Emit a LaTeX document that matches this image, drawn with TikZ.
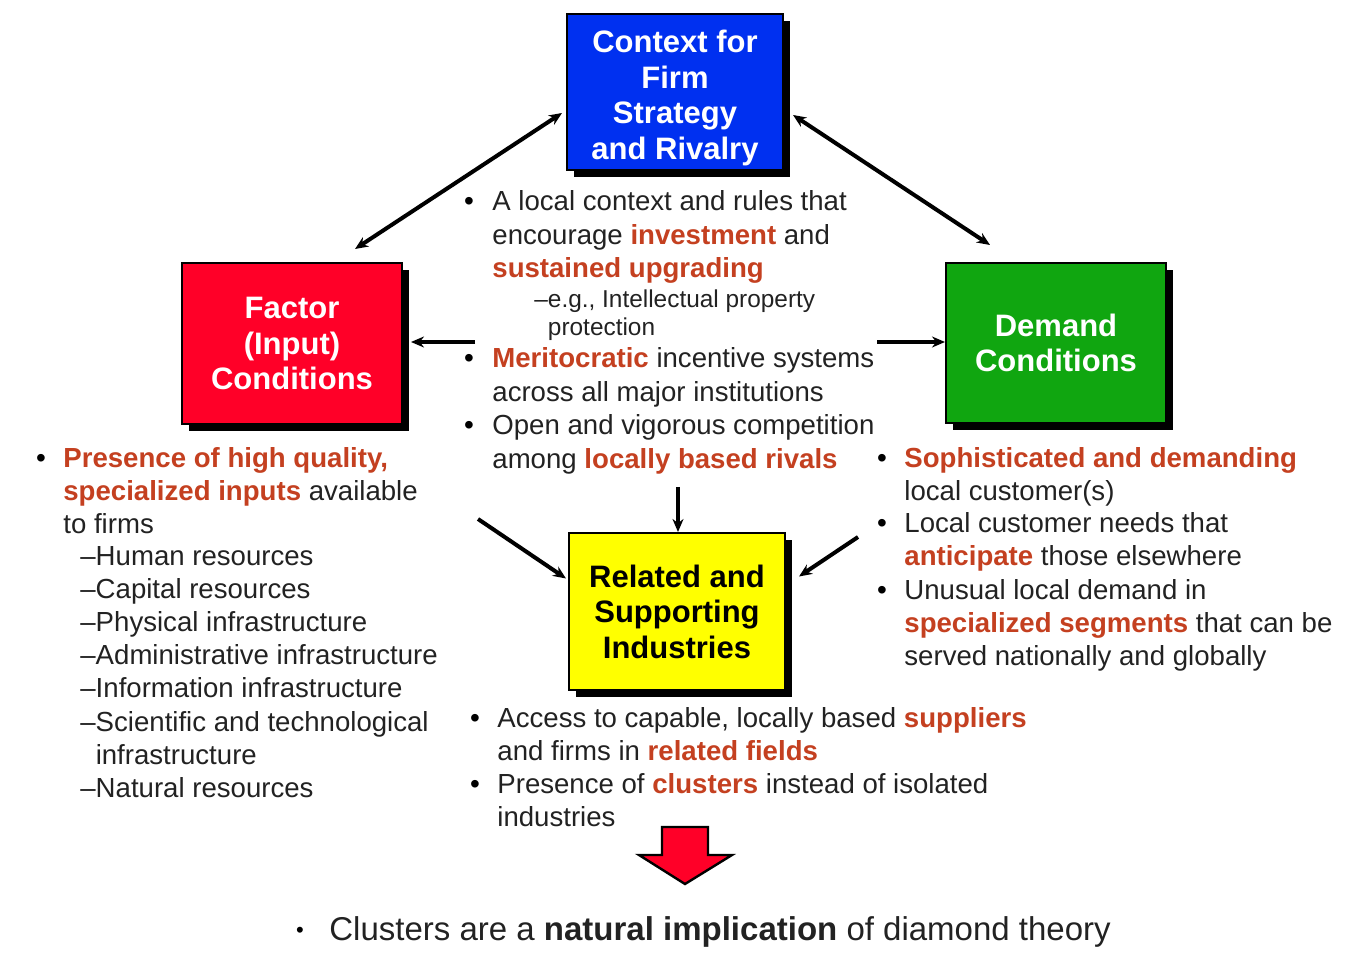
\documentclass[tikz,border=0pt]{standalone}
\usepackage{fontspec}
\setmainfont{Liberation Sans}
\usetikzlibrary{
  arrows.meta,
  shadows
}

\definecolor{ctxblue}{RGB}{0,48,240}
\definecolor{facred}{RGB}{255,0,40}
\definecolor{demgreen}{RGB}{16,166,16}
\definecolor{relyellow}{RGB}{255,255,0}
\definecolor{hotword}{RGB}{196,64,32}
\definecolor{bodygray}{RGB}{34,34,34}

\newcommand{\hw}[1]{{\bfseries\color{hotword}#1}}
\newcommand{\lines}[1]{\begin{tabular}[t]{@{}l@{}}#1\end{tabular}}

\begin{document}
\begin{tikzpicture}[x=0.5pt,y=-0.5pt,
  box/.style={draw=black, line width=1pt, align=center, text=white,
    minimum width=108pt, minimum height=78pt,
    font=\fontsize{15.5}{17.75}\selectfont\bfseries,
    drop shadow={shadow xshift=3.5pt, shadow yshift=-3.5pt, opacity=1, fill=black}},
  title/.style={align=center, text=white, inner sep=0pt,
    font=\fontsize{15.5}{17.75}\selectfont\bfseries},
  txt/.style={anchor=base west, inner sep=0pt, text=bodygray,
    font=\fontsize{13.8}{16.6}\selectfont},
  subtxt/.style={txt, font=\fontsize{12.2}{14}\selectfont},
  bul/.style={anchor=base, inner sep=0pt, text=black,
    font=\fontsize{14}{16.6}\selectfont},
  tip/.style={Stealth[length=6.5pt,width=5.5pt]},
  link/.style={line width=2pt, -{Stealth[length=6.5pt,width=5.5pt]}},
  twoway/.style={line width=2pt, {Stealth[length=6.5pt,width=5.5pt]}-{Stealth[length=6.5pt,width=5.5pt]}}
]
\useasboundingbox (0,0) rectangle (1364,972);

% The four corners of the diamond
\node[box, fill=ctxblue] (ctx) at (675,92) {};
\node[title] (ctxTitle) at ([yshift=-3pt]ctx.center) {Context for\\Firm\\Strategy\\and Rivalry};
\node[box, fill=facred, minimum width=110pt, minimum height=80.5pt] (fac) at (292,343.5) {Factor\\(Input)\\Conditions};
\node[box, fill=demgreen, minimum width=110pt, minimum height=80pt] (dem) at (1056,343) {Demand\\Conditions};
\node[box, fill=relyellow, text=black, minimum height=78.5pt] (rel) at (677,611.5) {Related and\\Supporting\\Industries};

% Free ends of the connectors
\coordinate (facIn) at (355,249);
\coordinate (demIn) at (990,245);
\coordinate (toFac) at (475,342);
\coordinate (toDem) at (877,342);
\coordinate (fromCtx) at (678,487);
\coordinate (fromFac) at (478,519);
\coordinate (fromDem) at (858,537);

% Connectors
\draw[twoway] ([shift={(-4,21)}]ctx.west) -- (facIn);
\draw[twoway] ([shift={(9,23)}]ctx.east) -- (demIn);
\draw[link] (toFac) -- ([xshift=4pt]fac.east |- toFac);
\draw[link] (toDem) -- (dem.west |- toDem);
\draw[link] (fromCtx) -- (fromCtx |- rel.north);
\draw[link] (fromFac) -- ([shift={(-2,-33)}]rel.west);
\draw[link] (fromDem) -- ([shift={(13,-35)}]rel.east);

% Bullets
\foreach \bx/\by [count=\i] in {469/211, 469/368, 469/435,
    41/467, 882/467, 882/532, 882/599, 475/727, 475/793} {
  \node[bul] (bul\i) at (\bx,\by) {•};
}

% Strategy and rivalry
\node[txt] (ctxA) at (492,211) {\lines{A local context and rules that\\encourage \hw{investment} and\\\hw{sustained upgrading}}};
\node[subtxt] (ctxSub) at (534,308) {\lines{–e.g., Intellectual property\\\phantom{–}protection}};
\node[txt] (ctxB) at (492,368) {\lines{\hw{Meritocratic} incentive systems\\across all major institutions}};
\node[txt] (ctxC) at (492,435) {\lines{Open and vigorous competition\\among \hw{locally based rivals}}};

% Factor conditions
\node[txt] (facA) at (63,467) {\lines{\hw{Presence of high quality,}\\\hw{specialized inputs} available\\to firms}};
\node[txt] (facList) at (80,565) {\lines{–Human resources\\–Capital resources\\–Physical infrastructure\\–Administrative infrastructure\\–Information infrastructure\\–Scientific and technological\\\phantom{–}infrastructure\\–Natural resources}};

% Demand conditions
\node[txt] (demA) at (904,467) {\lines{\hw{Sophisticated and demanding}\\local customer(s)}};
\node[txt] (demB) at (904,532) {\lines{Local customer needs that\\\hw{anticipate} those elsewhere}};
\node[txt] (demC) at (904,599) {\lines{Unusual local demand in\\\hw{specialized segments} that can be\\served nationally and globally}};

% Related and supporting industries
\node[txt] (relA) at (497,727) {\lines{Access to capable, locally based \hw{suppliers}\\and firms in \hw{related fields}}};
\node[txt] (relB) at (497,793) {\lines{Presence of \hw{clusters} instead of isolated\\industries}};

% Block arrow and conclusion
\draw[fill=facred, line width=1.2pt, line join=miter]
  (662,827) -- (708,827) -- (708,855) -- (732,855) -- (685,884)
  -- (639,855) -- (662,855) -- cycle;
\node[bul, font=\fontsize{11}{13}\selectfont] (concBul) at (300,937) {•};
\node[txt, font=\fontsize{16.5}{19}\selectfont] (conc) at (329,940) {Clusters are a \textbf{natural implication} of diamond theory};

\end{tikzpicture}
\end{document}
